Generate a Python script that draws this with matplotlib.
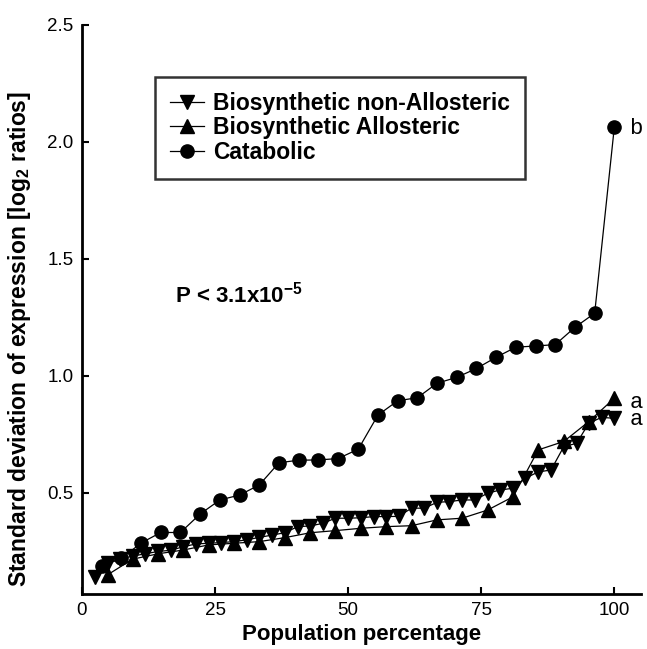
import matplotlib
matplotlib.use("Agg")
import matplotlib.pyplot as plt

plt.rcParams['font.family'] = ['Liberation Sans', 'DejaVu Sans']
plt.rcParams['mathtext.fontset'] = 'custom'
plt.rcParams['mathtext.bf'] = 'Liberation Sans:bold'
plt.rcParams['mathtext.rm'] = 'Liberation Sans:bold'
plt.rcParams['mathtext.default'] = 'bf'

# Biosynthetic non-Allosteric (down triangles)
nonallo_x = [2.4, 4.8, 7.1, 9.5, 11.9, 14.3, 16.7, 19.0, 21.4, 23.8, 26.2, 28.6, 31.0, 33.3,
             35.7, 38.1, 40.5, 42.9, 45.2, 47.6, 50.0, 52.4, 54.8, 57.1, 59.5, 61.9, 64.3, 66.7,
             69.0, 71.4, 73.8, 76.2, 78.6, 81.0, 83.3, 85.7, 88.1, 90.5, 92.9, 95.2, 97.6, 100.0]
nonallo_y = [0.142, 0.20, 0.217, 0.23, 0.24, 0.25, 0.255, 0.27, 0.282, 0.285, 0.288, 0.292, 0.30, 0.31,
             0.32, 0.33, 0.356, 0.359, 0.37, 0.392, 0.392, 0.394, 0.399, 0.399, 0.40, 0.435, 0.435, 0.46,
             0.463, 0.47, 0.47, 0.499, 0.513, 0.52, 0.563, 0.59, 0.598, 0.698, 0.712, 0.798, 0.823, 0.819]

# Biosynthetic Allosteric (up triangles)
allo_x = [4.8, 9.5, 14.3, 19.0, 23.8, 28.6, 33.3, 38.1, 42.9, 47.6, 52.4,
          57.1, 61.9, 66.7, 71.4, 76.2, 81.0, 85.7, 90.5, 95.2, 100.0]
allo_y = [0.15, 0.217, 0.24, 0.256, 0.278, 0.285, 0.292, 0.309, 0.33, 0.339, 0.349,
          0.356, 0.36, 0.385, 0.392, 0.427, 0.484, 0.684, 0.72, 0.805, 0.905]

# Catabolic (circles)
cat_x = [3.7, 7.4, 11.1, 14.8, 18.5, 22.2, 25.9, 29.6, 33.3, 37.0, 40.7, 44.4, 48.1, 51.9,
         55.6, 59.3, 63.0, 66.7, 70.4, 74.1, 77.8, 81.5, 85.2, 88.9, 92.6, 96.3, 100.0]
cat_y = [0.188, 0.22, 0.286, 0.331, 0.331, 0.41, 0.47, 0.491, 0.534, 0.629, 0.64, 0.641, 0.647, 0.687,
         0.833, 0.894, 0.907, 0.969, 0.994, 1.032, 1.08, 1.123, 1.128, 1.134, 1.208, 1.268, 2.065]

fig = plt.figure(figsize=(6.47, 6.49), dpi=100)
ax = fig.add_axes([0.1267, 0.0847, 0.864, 0.8768])

line_kw = dict(color='black', linewidth=0.9, markersize=10)
ax.plot(nonallo_x, nonallo_y, marker='v', label='Biosynthetic non-Allosteric', **line_kw)
ax.plot(allo_x, allo_y, marker='^', label='Biosynthetic Allosteric', **line_kw)
ax.plot(cat_x, cat_y, marker='o', label='Catabolic', **{**line_kw, 'markersize': 9.5})

ax.set_xlim(0, 105)
ax.set_ylim(0.068, 2.5)
ax.set_xticks([0, 25, 50, 75, 100])
ax.set_yticks([0.5, 1.0, 1.5, 2.0, 2.5])
ax.set_yticklabels(['0.5', '1.0', '1.5', '2.0', '2.5'])
ax.tick_params(direction='in', length=5, width=1.5, labelsize=13.5, pad=6)

for side in ['top', 'right']:
    ax.spines[side].set_visible(False)
for side in ['left', 'bottom']:
    ax.spines[side].set_linewidth(2)

ax.set_xlabel('Population percentage', fontsize=16, fontweight='bold', labelpad=3)
ax.set_ylabel(r'Standard deviation of expression [log$_{2}$ ratios]', fontsize=16.5,
              fontweight='bold')
ax.yaxis.set_label_coords(-0.088, 0.448)

ax.text(17.5, 1.35, r'P < 3.1x10$^{-5}$', fontsize=16, fontweight='bold', va='center')

# significance letters
mono = dict(family='Liberation Mono', fontsize=16, va='center', clip_on=False)
ax.text(102.8, 2.056, 'b', **mono)
ax.text(102.8, 0.85, 'a\na', linespacing=0.72, **mono)

leg = ax.legend(loc='upper left', bbox_to_anchor=(0.13, 0.909), borderaxespad=0,
                fancybox=False, numpoints=1, handlelength=1.5, handletextpad=0.4,
                prop={'weight': 'bold', 'size': 16.5}, borderpad=0.65, labelspacing=0.08)
leg.get_frame().set_edgecolor('black')
leg.get_frame().set_linewidth(1.8)

fig.savefig('out.png', dpi=100)
